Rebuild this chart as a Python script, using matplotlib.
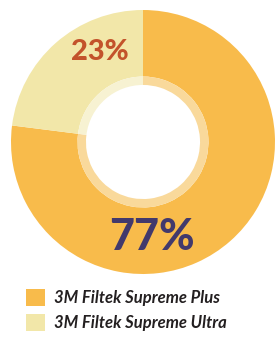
import matplotlib
matplotlib.use("Agg")
import matplotlib.pyplot as plt
from matplotlib.patches import Patch

# data
labels = ["3M Filtek Supreme Plus", "3M Filtek Supreme Ultra"]
values = [77, 23]
pct_text = ["77%", "23%"]

colors = ["#F8BB4B", "#F2E7A9"]
ring_colors = ["#F9D99B", "#F7F2D2"]
text_colors = ["#42396C", "#C3532B"]

W, H = 276, 337
fig = plt.figure(figsize=(W / 100, H / 100), dpi=100)

# pie centre (143,142) px from top-left, radius 132 px
cx, cy, r = 143, 142, 132
ax = fig.add_axes([(cx - r) / W, (H - cy - r) / H, 2 * r / W, 2 * r / H])

ax.pie(values, radius=1.0, colors=colors, startangle=90, counterclock=False,
       wedgeprops=dict(width=1 - 0.496, linewidth=0))
ax.pie(values, radius=0.496, colors=ring_colors, startangle=90, counterclock=False,
       wedgeprops=dict(width=0.496 - 0.432, linewidth=0))
ax.set_xlim(-1, 1)
ax.set_ylim(-1, 1)
ax.set_aspect("equal")
ax.axis("off")

ax.text(0.07, -0.72, pct_text[0], ha="center", va="center", fontsize=31,
        fontweight="black", family="Lato", color=text_colors[0])
ax.text(-0.33, 0.68, pct_text[1], ha="center", va="center", fontsize=21,
        fontweight="black", family="Lato", color=text_colors[1])

handles = [Patch(facecolor=c, edgecolor="none") for c in colors]
leg = fig.legend(handles, labels, loc="upper left",
                 bbox_to_anchor=(26 / W, 1 - 289 / H), frameon=False,
                 prop=dict(family="Lato", style="italic", weight="bold", size=12),
                 handlelength=1.15, handleheight=1.15, handletextpad=0.55,
                 labelspacing=0.5, borderpad=0, borderaxespad=0)
for t in leg.get_texts():
    t.set_color("#231F20")

fig.savefig("out.png", dpi=100)
